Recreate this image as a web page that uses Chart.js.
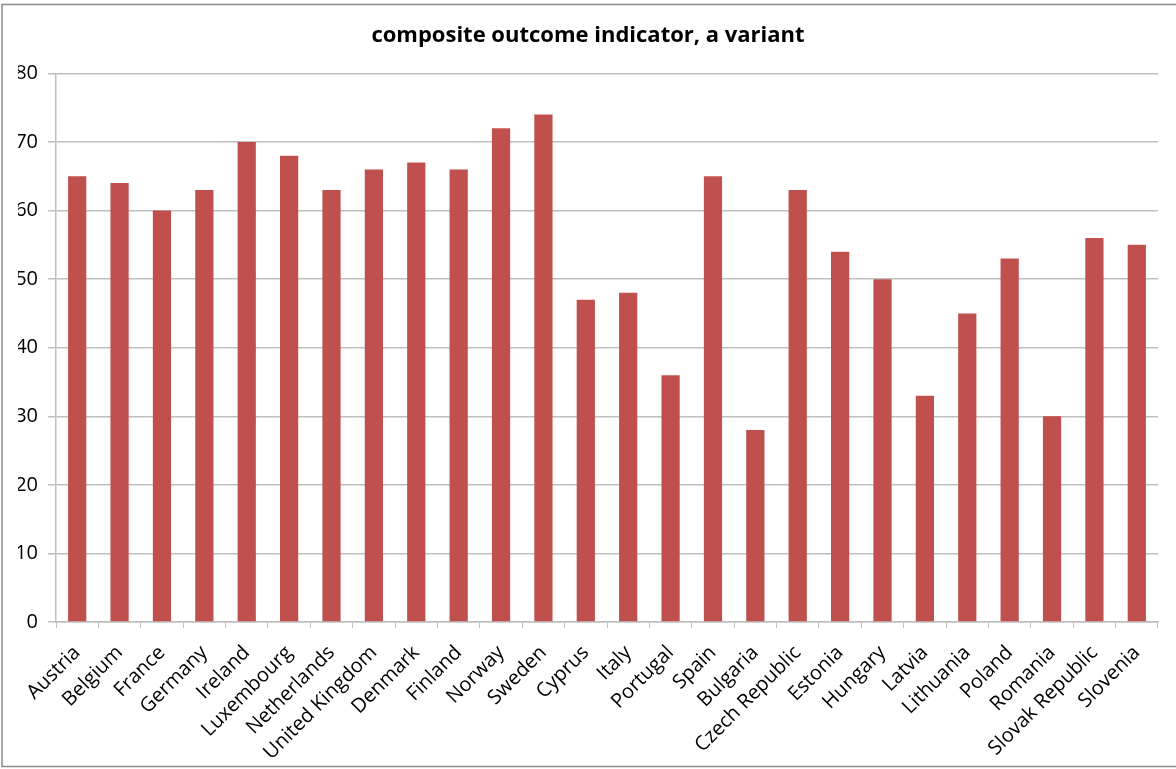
<!DOCTYPE html>
<html>
<head>
<meta charset="utf-8">
<script src="https://cdn.jsdelivr.net/npm/chart.js@4"></script>
<style>
  html, body { margin: 0; padding: 0; background: #fff; }
  #wrap { width: 1176px; height: 769px; position: relative; }
</style>
</head>
<body>
<div id="wrap"><canvas id="chart"></canvas></div>
<script>
const countries = ['Austria', 'Belgium', 'France', 'Germany', 'Ireland', 'Luxembourg', 'Netherlands',
  'United Kingdom', 'Denmark', 'Finland', 'Norway', 'Sweden', 'Cyprus', 'Italy', 'Portugal', 'Spain',
  'Bulgaria', 'Czech Republic', 'Estonia', 'Hungary', 'Latvia', 'Lithuania', 'Poland', 'Romania',
  'Slovak Republic', 'Slovenia'];
const scores = [65, 64, 60, 63, 70, 68, 63, 66, 67, 66, 72, 74, 47, 48, 36, 65, 28, 63, 54, 50, 33, 45, 53, 30, 56, 55];

const titleText = 'composite outcome indicator, a variant';
const font = "'Open Sans', sans-serif";
const gridGrey = '#BFBFBF';

// thin frame around the whole chart
const frame = {
  id: 'frame',
  beforeDraw(chart) {
    const ctx = chart.ctx;
    ctx.save();
    ctx.fillStyle = '#fff';
    ctx.fillRect(0, 0, chart.width, chart.height);
    ctx.strokeStyle = '#8C8C8C';
    ctx.lineWidth = 1.5;
    ctx.strokeRect(2, 4.5, chart.width + 10, chart.height - 7);
    ctx.restore();
  }
};

new Chart(document.getElementById('chart'), {
  type: 'bar',
  data: {
    labels: countries,
    datasets: [{
      label: titleText,
      data: scores,
      backgroundColor: '#C0504D',
      borderWidth: 0,
      barPercentage: 0.43,
      categoryPercentage: 1
    }]
  },
  options: {
    responsive: true,
    maintainAspectRatio: false,
    animation: false,
    // equal side padding keeps the title centred on the canvas
    layout: { padding: { left: 18, right: 18, top: 0, bottom: 0 } },
    plugins: {
      legend: { display: false },
      tooltip: { enabled: false },
      title: {
        display: true,
        text: titleText,
        color: '#000',
        font: { family: font, size: 22, weight: 'bold' },
        padding: { top: 23, bottom: 24 }
      }
    },
    scales: {
      x: {
        grid: { offset: true, drawOnChartArea: false, drawTicks: true, tickLength: 6, color: gridGrey },
        border: { display: true, color: gridGrey, width: 1.5 },
        ticks: {
          color: '#000',
          font: { family: font, size: 20 },
          minRotation: 45,
          maxRotation: 45,
          autoSkip: false,
          padding: 13
        },
        afterFit(scale) { scale.height = 147; }
      },
      y: {
        min: 0,
        max: 80,
        ticks: { stepSize: 10, color: '#000', font: { family: font, size: 20 }, padding: 10 },
        grid: { color: gridGrey, lineWidth: 1.5, tickLength: 8 },
        border: { display: true, color: gridGrey, width: 1.5 },
        afterFit(scale) { scale.width = 38; }
      }
    }
  },
  plugins: [frame]
});
</script>
</body>
</html>
